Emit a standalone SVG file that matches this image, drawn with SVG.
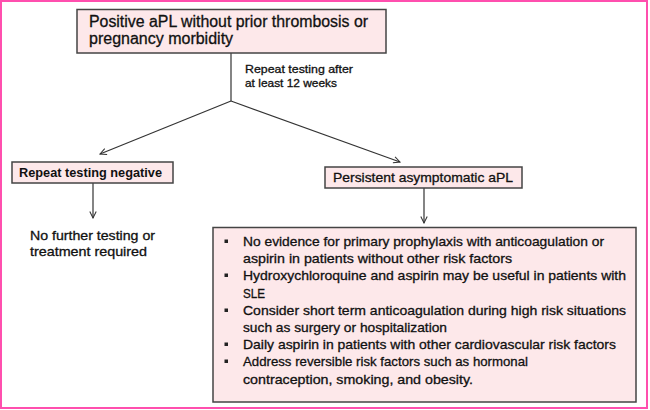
<svg xmlns="http://www.w3.org/2000/svg" width="650" height="410" viewBox="0 0 650 410">
<defs>
<marker id="arr" viewBox="0 0 10 10" refX="9" refY="5" markerWidth="8" markerHeight="8" markerUnits="userSpaceOnUse" orient="auto">
<path d="M1,1 L9,5 L1,9" fill="none" stroke="#333" stroke-width="1.3"/>
</marker>
<style>
.box{fill:#fde8ea;stroke:#444;stroke-width:1.5}
.t{font-family:"Liberation Sans",Arial,sans-serif;fill:#111;stroke:#111;stroke-width:0.3}
.b{font-weight:bold;stroke-width:0}
.c{stroke:#333;stroke-width:1.2;fill:none}
.bul{fill:#222}
</style>
</defs>
<rect x="1" y="1" width="646" height="407" fill="#fff" stroke="#ff4fae" stroke-width="2"/>

<g id="connectors">
<line class="c" x1="231" y1="53" x2="231" y2="101"/>
<line class="c" x1="231" y1="101" x2="100" y2="154" marker-end="url(#arr)"/>
<line class="c" x1="231" y1="101" x2="400" y2="162" marker-end="url(#arr)"/>
<line class="c" x1="93" y1="183" x2="93" y2="218" marker-end="url(#arr)"/>
<line class="c" x1="424" y1="188" x2="424" y2="223" marker-end="url(#arr)"/>
</g>

<g id="n-start">
<rect class="box" x="77" y="9.5" width="309" height="43.5"/>
<text class="t" x="89" y="27" font-size="16" textLength="279" lengthAdjust="spacingAndGlyphs">Positive aPL without prior thrombosis or</text>
<text class="t" x="89" y="44" font-size="16">pregnancy morbidity</text>
</g>

<g id="label-repeat">
<text class="t" x="245" y="73" font-size="11" textLength="108" lengthAdjust="spacingAndGlyphs">Repeat testing after</text>
<text class="t" x="245" y="87" font-size="11" textLength="92" lengthAdjust="spacingAndGlyphs">at least 12 weeks</text>
</g>

<g id="n-negative">
<rect class="box" x="12" y="162" width="161" height="21"/>
<text class="t b" x="19" y="177" font-size="12.5" textLength="143" lengthAdjust="spacingAndGlyphs">Repeat testing negative</text>
</g>

<g id="n-nofurther">
<text class="t" x="30" y="240" font-size="13" textLength="125" lengthAdjust="spacingAndGlyphs">No further testing or</text>
<text class="t" x="30" y="256" font-size="13" textLength="117" lengthAdjust="spacingAndGlyphs">treatment required</text>
</g>

<g id="n-persistent">
<rect class="box" x="325" y="167" width="197" height="21"/>
<text class="t" x="333" y="182" font-size="13" textLength="180" lengthAdjust="spacingAndGlyphs">Persistent asymptomatic aPL</text>
</g>

<g id="n-recommendations">
<rect class="box" x="213" y="227.5" width="423" height="174.5"/>
<rect class="bul" x="224.5" y="239.5" width="3.5" height="3.5"/>
<rect class="bul" x="224.5" y="273.5" width="3.5" height="3.5"/>
<rect class="bul" x="224.5" y="308.5" width="3.5" height="3.5"/>
<rect class="bul" x="224.5" y="342.5" width="3.5" height="3.5"/>
<rect class="bul" x="224.5" y="359.5" width="3.5" height="3.5"/>
<text class="t" x="243" y="246" font-size="13" textLength="361" lengthAdjust="spacingAndGlyphs">No evidence for primary prophylaxis with anticoagulation or</text>
<text class="t" x="243" y="263" font-size="13" textLength="269" lengthAdjust="spacingAndGlyphs">aspirin in patients without other risk factors</text>
<text class="t" x="243" y="280" font-size="13" textLength="383" lengthAdjust="spacingAndGlyphs">Hydroxychloroquine and aspirin may be useful in patients with</text>
<text class="t" x="243" y="298" font-size="13" textLength="22" lengthAdjust="spacingAndGlyphs">SLE</text>
<text class="t" x="243" y="315" font-size="13" textLength="383" lengthAdjust="spacingAndGlyphs">Consider short term anticoagulation during high risk situations</text>
<text class="t" x="243" y="332" font-size="13" textLength="204" lengthAdjust="spacingAndGlyphs">such as surgery or hospitalization</text>
<text class="t" x="243" y="349" font-size="13" textLength="373" lengthAdjust="spacingAndGlyphs">Daily aspirin in patients with other cardiovascular risk factors</text>
<text class="t" x="243" y="366" font-size="13" textLength="285" lengthAdjust="spacingAndGlyphs">Address reversible risk factors such as hormonal</text>
<text class="t" x="243" y="384" font-size="13" textLength="230" lengthAdjust="spacingAndGlyphs">contraception, smoking, and obesity.</text>
</g>
</svg>
